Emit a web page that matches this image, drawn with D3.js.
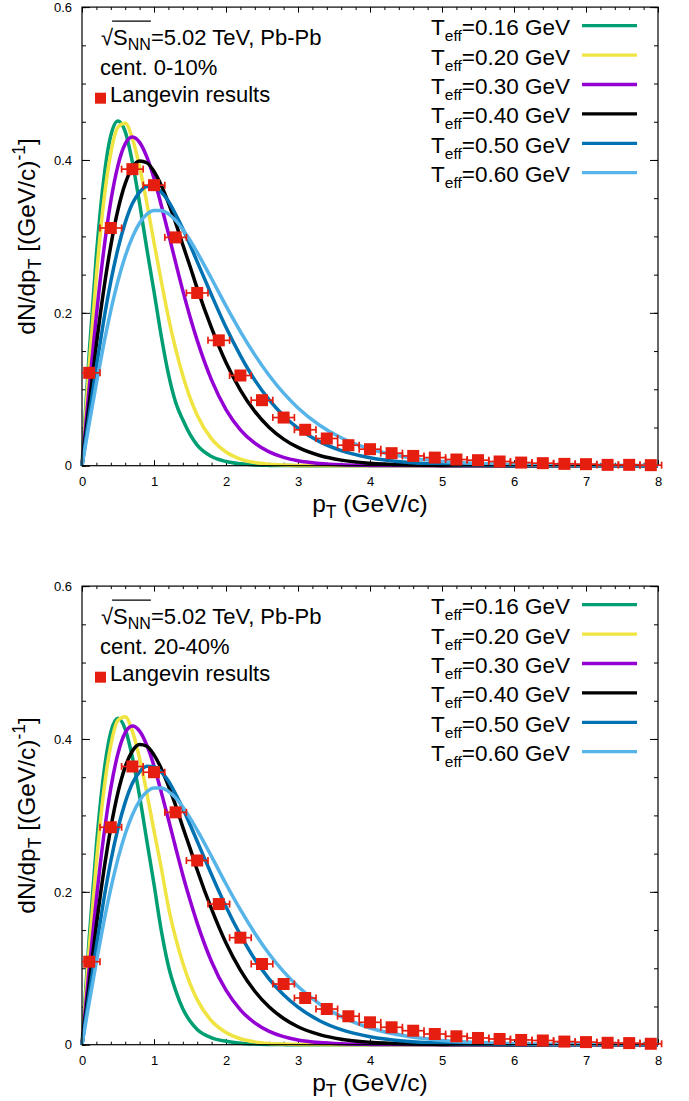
<!DOCTYPE html>
<html>
<head>
<meta charset="utf-8">
<script src="https://cdn.jsdelivr.net/npm/d3@7"></script>
<style>
  body { margin: 0; background: #fff; }
  text { font-family: "Liberation Sans", Arial, sans-serif; fill: #000; }
</style>
</head>
<body>
<div id="chart"></div>
<script>
// pT grid of the T_eff curves (GeV/c)
var ptGrid = [0, 0.1, 0.2, 0.3, 0.4, 0.5, 0.6, 0.7, 0.8, 0.9, 1.0, 1.1, 1.2, 1.3, 1.4, 1.5, 1.6, 1.8, 2.0, 2.2, 2.4, 2.6, 2.8, 3.0, 3.3, 3.6, 4.0, 4.5, 5.0, 5.5, 6.0, 7.0, 8.0];

var teffLabels = ["0.16", "0.20", "0.30", "0.40", "0.50", "0.60"];
var teffColors = ["#009e73", "#f0e442", "#9400d3", "#000000", "#0072b2", "#56b4e9"];

// cent. 0-10%
var t016_c010 = [0, 0.147, 0.276, 0.373, 0.432, 0.451, 0.437, 0.397, 0.343, 0.284, 0.228, 0.170, 0.120, 0.083, 0.060, 0.041, 0.027, 0.012, 0.0055, 0.0025, 0.001, 0.0004, 0.0002, 0, 0, 0, 0, 0, 0, 0, 0, 0, 0];
var t020_c010 = [0, 0.131, 0.249, 0.344, 0.409, 0.443, 0.448, 0.428, 0.391, 0.344, 0.292, 0.242, 0.194, 0.153, 0.118, 0.089, 0.066, 0.035, 0.018, 0.0087, 0.0041, 0.0019, 0.0009, 0.0004, 0.0001, 0, 0, 0, 0, 0, 0, 0, 0];
var t030_c010 = [0, 0.102, 0.197, 0.280, 0.346, 0.393, 0.421, 0.430, 0.423, 0.404, 0.376, 0.341, 0.304, 0.266, 0.229, 0.195, 0.164, 0.112, 0.0735, 0.047, 0.0294, 0.018, 0.0108, 0.0064, 0.0029, 0.0012, 0.0004, 0.0001, 0, 0, 0, 0, 0];
var t040_c010 = [0, 0.0814, 0.159, 0.229, 0.288, 0.335, 0.369, 0.390, 0.3986, 0.3964, 0.385, 0.367, 0.344, 0.318, 0.289, 0.261, 0.232, 0.180, 0.135, 0.099, 0.071, 0.050, 0.0348, 0.0239, 0.0134, 0.0073, 0.0032, 0.0011, 0.0004, 0.0001, 0, 0, 0];
var t050_c010 = [0, 0.0664, 0.130, 0.189, 0.241, 0.284, 0.318, 0.343, 0.358, 0.3654, 0.3648, 0.358, 0.346, 0.329, 0.310, 0.289, 0.267, 0.223, 0.181, 0.144, 0.112, 0.0862, 0.0655, 0.0492, 0.0315, 0.0198, 0.0105, 0.0046, 0.002, 0.0008, 0.0003, 0.0001, 0];
var t060_c010 = [0, 0.0551, 0.108, 0.158, 0.203, 0.242, 0.274, 0.299, 0.3175, 0.329, 0.334, 0.334, 0.3295, 0.321, 0.309, 0.295, 0.279, 0.2446, 0.209, 0.1755, 0.145, 0.118, 0.0949, 0.0756, 0.053, 0.0365, 0.0218, 0.0112, 0.0056, 0.0028, 0.0014, 0.0003, 0.0001];

// cent. 20-40%
var t016_c2040 = [0, 0.139, 0.261, 0.353, 0.409, 0.427, 0.413, 0.376, 0.325, 0.267, 0.210, 0.150, 0.103, 0.071, 0.047, 0.031, 0.020, 0.009, 0.0045, 0.002, 0.0008, 0.0003, 0.0001, 0, 0, 0, 0, 0, 0, 0, 0, 0, 0];
var t020_c2040 = [0, 0.1255, 0.2385, 0.3296, 0.3918, 0.4244, 0.4292, 0.410, 0.3746, 0.3296, 0.2797, 0.2318, 0.180, 0.140, 0.107, 0.080, 0.059, 0.031, 0.016, 0.0078, 0.0037, 0.0017, 0.0008, 0.0004, 0.0001, 0, 0, 0, 0, 0, 0, 0, 0];
var t030_c2040 = [0, 0.099, 0.191, 0.2716, 0.3356, 0.3812, 0.4084, 0.4171, 0.4103, 0.3919, 0.3647, 0.3308, 0.2949, 0.258, 0.2221, 0.1892, 0.1591, 0.1086, 0.0713, 0.0456, 0.0285, 0.0175, 0.0105, 0.0062, 0.0028, 0.0012, 0.0004, 0.0001, 0, 0, 0, 0, 0];
var t040_c2040 = [0, 0.0802, 0.1566, 0.2256, 0.2837, 0.330, 0.3635, 0.3842, 0.3926, 0.3905, 0.3792, 0.3615, 0.3388, 0.3132, 0.2847, 0.2571, 0.2285, 0.1773, 0.133, 0.0975, 0.0699, 0.0493, 0.0343, 0.0235, 0.0132, 0.0072, 0.0032, 0.0011, 0.0004, 0.0001, 0, 0, 0];
var t050_c2040 = [0, 0.0662, 0.1296, 0.1884, 0.2403, 0.2831, 0.317, 0.342, 0.3569, 0.3643, 0.3637, 0.3569, 0.345, 0.328, 0.309, 0.2881, 0.2662, 0.2223, 0.1805, 0.1436, 0.1117, 0.0859, 0.0653, 0.0491, 0.0314, 0.0197, 0.0105, 0.0046, 0.002, 0.0008, 0.0003, 0.0001, 0];
var t060_c2040 = [0, 0.0554, 0.1086, 0.159, 0.2042, 0.2435, 0.2756, 0.3008, 0.3194, 0.331, 0.336, 0.336, 0.3315, 0.3229, 0.3109, 0.2968, 0.2807, 0.2461, 0.2103, 0.1766, 0.1459, 0.1187, 0.0955, 0.0761, 0.0533, 0.0367, 0.0219, 0.0113, 0.0056, 0.0028, 0.0014, 0.0003, 0.0001];

// Langevin results
var langevinPt = [0.1, 0.4, 0.7, 1.0, 1.3, 1.6, 1.9, 2.2, 2.5, 2.8, 3.1, 3.4, 3.7, 4.0, 4.3, 4.6, 4.9, 5.2, 5.5, 5.8, 6.1, 6.4, 6.7, 7.0, 7.3, 7.6, 7.9];
var langevin_c010 = [0.1215, 0.311, 0.388, 0.367, 0.2987, 0.226, 0.164, 0.118, 0.0857, 0.063, 0.047, 0.0356, 0.0268, 0.0216, 0.0164, 0.0128, 0.0106, 0.0081, 0.0072, 0.0055, 0.0041, 0.0033, 0.0024, 0.002, 0.0011, 0.0011, 0.0007];
var langevin_c2040 = [0.1086, 0.2845, 0.364, 0.3565, 0.304, 0.241, 0.184, 0.140, 0.1056, 0.0794, 0.0611, 0.0467, 0.0372, 0.0293, 0.0228, 0.0183, 0.014, 0.011, 0.0088, 0.0075, 0.0062, 0.0055, 0.0041, 0.0034, 0.0025, 0.0021, 0.0012];
var ptHalfBin = 0.15;

var W = 689, H = 1101;
var left = 82, right = 658, plotH = 458.6;

var svg = d3.select("#chart").append("svg")
  .attr("width", W).attr("height", H)
  .style("display", "block");

svg.append("rect").attr("width", W).attr("height", H).attr("fill", "#fff");

function drawPanel(top, curves, points, centText) {
  var g = svg.append("g");
  var x = d3.scaleLinear().domain([0, 8]).range([left, right]);
  var y = d3.scaleLinear().domain([0, 0.6]).range([top + plotH, top]);

  // minor ticks
  g.append("g").attr("transform", "translate(0," + (top + plotH) + ")")
    .call(d3.axisBottom(x).tickValues(d3.range(0, 8.01, 0.2)).tickSize(-3).tickSizeOuter(0).tickFormat(""));
  g.append("g").attr("transform", "translate(0," + top + ")")
    .call(d3.axisTop(x).tickValues(d3.range(0, 8.01, 0.2)).tickSize(-3).tickSizeOuter(0).tickFormat(""));
  g.append("g").attr("transform", "translate(" + left + ",0)")
    .call(d3.axisLeft(y).tickValues(d3.range(0, 0.601, 0.05)).tickSize(-4).tickSizeOuter(0).tickFormat(""));
  g.append("g").attr("transform", "translate(" + right + ",0)")
    .call(d3.axisRight(y).tickValues(d3.range(0, 0.601, 0.05)).tickSize(-4).tickSizeOuter(0).tickFormat(""));

  // major ticks
  g.append("g").attr("class", "xaxis").attr("transform", "translate(0," + (top + plotH) + ")")
    .call(d3.axisBottom(x).tickValues(d3.range(0, 9, 1)).tickSize(-5.5).tickSizeOuter(0).tickPadding(11).tickFormat(d3.format("d")));
  g.append("g").attr("transform", "translate(0," + top + ")")
    .call(d3.axisTop(x).tickValues(d3.range(0, 9, 1)).tickSize(-5.5).tickSizeOuter(0).tickFormat(""));
  g.append("g").attr("class", "yaxis").attr("transform", "translate(" + left + ",0)")
    .call(d3.axisLeft(y).tickValues([0, 0.2, 0.4, 0.6]).tickSize(-8).tickSizeOuter(0).tickPadding(10)
      .tickFormat(function(d) { return d === 0 ? "0" : d3.format(".1f")(d); }));
  g.append("g").attr("transform", "translate(" + right + ",0)")
    .call(d3.axisRight(y).tickValues([0, 0.2, 0.4, 0.6]).tickSize(-8).tickSizeOuter(0).tickFormat(""));

  g.selectAll(".domain").remove();
  g.selectAll(".tick line").attr("stroke", "#000").attr("stroke-width", 1);
  g.selectAll(".tick text").style("font-size", "13px").attr("fill", "#000");

  // curves
  var line = d3.line()
    .x(function(d) { return x(d[0]); })
    .y(function(d) { return y(d[1]); })
    .curve(d3.curveMonotoneX);
  curves.forEach(function(vals, i) {
    g.append("path")
      .datum(ptGrid.map(function(p, k) { return [p, vals[k]]; }))
      .attr("d", line)
      .attr("fill", "none")
      .attr("stroke", teffColors[i])
      .attr("stroke-width", 3.5)
      .attr("stroke-linejoin", "round");
  });

  // frame
  g.append("rect")
    .attr("x", left).attr("y", top)
    .attr("width", right - left).attr("height", plotH)
    .attr("fill", "none").attr("stroke", "#000").attr("stroke-width", 1.2);

  // Langevin points with horizontal bin bars
  var red = "#e51e10";
  var pts = g.append("g");
  langevinPt.forEach(function(p, k) {
    var cy = y(points[k]);
    var x0 = x(Math.max(0, p - ptHalfBin)), x1 = x(p + ptHalfBin);
    pts.append("line").attr("x1", x0).attr("x2", x1).attr("y1", cy).attr("y2", cy)
      .attr("stroke", red).attr("stroke-width", 1.7);
    [x0, x1].forEach(function(xe) {
      if (xe <= left + 0.5) return;
      pts.append("line").attr("x1", xe).attr("x2", xe).attr("y1", cy - 3.5).attr("y2", cy + 3.5)
        .attr("stroke", red).attr("stroke-width", 1.7);
    });
    pts.append("rect").attr("x", x(p) - 6).attr("y", cy - 6)
      .attr("width", 12).attr("height", 12).attr("fill", red);
  });

  // axis titles
  var xt = g.append("text").attr("x", (left + right) / 2).attr("y", top + 505)
    .attr("text-anchor", "middle").style("font-size", "24.5px");
  xt.append("tspan").text("p");
  xt.append("tspan").attr("dy", 5.5).style("font-size", "17.5px").text("T");
  xt.append("tspan").attr("dy", -5.5).text(" (GeV/c)");

  var yt = g.append("text")
    .attr("transform", "translate(35," + (top + plotH / 2) + ") rotate(-90)")
    .attr("text-anchor", "middle").style("font-size", "24.5px");
  yt.append("tspan").text("dN/dp");
  yt.append("tspan").attr("dy", 5.5).style("font-size", "17.5px").text("T");
  yt.append("tspan").attr("dy", -5.5).text(" [(GeV/c)");
  yt.append("tspan").attr("dy", -10).style("font-size", "17.5px").text("-1");
  yt.append("tspan").attr("dy", 10).text("]");

  // upper-left labels
  var st = g.append("text").attr("x", 101).attr("y", top + 38).style("font-size", "22px");
  st.append("tspan").text("\u221A");
  st.append("tspan").text("S");
  st.append("tspan").attr("dy", 5).style("font-size", "16px").text("NN");
  st.append("tspan").attr("dy", -5).text("=5.02 TeV, Pb-Pb");
  var sn = st.node();
  var e0 = sn.getExtentOfChar(0), e3 = sn.getExtentOfChar(3);
  g.append("line")
    .attr("x1", e0.x + e0.width - 1).attr("x2", e3.x + e3.width)
    .attr("y1", top + 14).attr("y2", top + 14)
    .attr("stroke", "#000").attr("stroke-width", 1.4);

  g.append("text").attr("x", 100).attr("y", top + 68).style("font-size", "22px").text(centText);

  g.append("rect").attr("x", 95).attr("y", top + 85.6).attr("width", 11).attr("height", 11).attr("fill", red);
  g.append("text").attr("x", 110).attr("y", top + 94.6).style("font-size", "22px").text("Langevin results");

  // T_eff legend
  teffLabels.forEach(function(lab, i) {
    var by = top + 28 + i * 29.4;
    var t = g.append("text").attr("x", 570).attr("y", by)
      .attr("text-anchor", "end").style("font-size", "22.5px");
    t.append("tspan").text("T");
    t.append("tspan").attr("dy", 6).style("font-size", "15.5px").text("eff");
    t.append("tspan").attr("dy", -6).text("=" + lab + " GeV");
    g.append("line").attr("x1", 582).attr("x2", 637)
      .attr("y1", by - 9.4).attr("y2", by - 9.4)
      .attr("stroke", teffColors[i]).attr("stroke-width", 3.3);
  });
}

drawPanel(7.1, [t016_c010, t020_c010, t030_c010, t040_c010, t050_c010, t060_c010], langevin_c010, "cent. 0-10%");
drawPanel(586.1, [t016_c2040, t020_c2040, t030_c2040, t040_c2040, t050_c2040, t060_c2040], langevin_c2040, "cent. 20-40%");
</script>
</body>
</html>
